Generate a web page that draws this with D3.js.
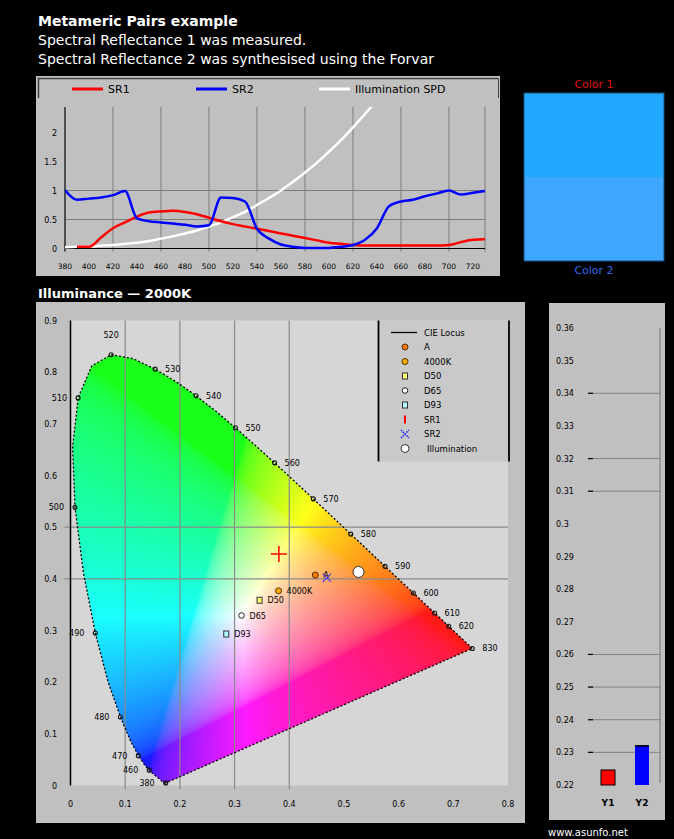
<!DOCTYPE html>
<html><head><meta charset="utf-8">
<script src="https://cdn.jsdelivr.net/npm/d3@7"></script>
<style>
html,body{margin:0;padding:0;background:#000;}
svg{display:block;font-family:"DejaVu Sans",sans-serif;}
</style></head><body>
<svg id="chart" width="674" height="839"></svg>
<script>
// ---------- data ----------
const titleLines = ["Metameric Pairs example", "Spectral Reflectance 1 was measured.", "Spectral Reflectance 2 was synthesised using the Forvar"];

// spectra, 10 nm steps
const wavelengths = d3.range(380, 731, 10);
const sr1 = [null,0.03,0.03,0.19,0.35,0.45,0.55,0.62,0.64,0.65,0.63,0.59,0.53,0.47,0.42,0.38,0.34,0.30,0.26,0.22,0.18,0.14,0.10,0.08,0.06,0.05,0.05,0.05,0.05,0.05,0.05,0.05,0.06,0.11,0.15,0.16];
const sr2 = [1.01,0.84,0.86,0.88,0.92,0.99,0.52,0.47,0.45,0.43,0.41,0.38,0.40,0.88,0.87,0.81,0.34,0.17,0.07,0.03,0.01,0.01,0.01,0.03,0.06,0.15,0.35,0.73,0.81,0.84,0.90,0.95,1.00,0.93,0.96,0.99];
const illumWl = d3.range(380, 641, 10);
const illum = [0.02,0.03,0.03,0.05,0.06,0.08,0.10,0.13,0.17,0.21,0.26,0.31,0.38,0.45,0.54,0.63,0.75,0.87,1.00,1.15,1.31,1.48,1.67,1.87,2.09,2.32,2.56];
const specSeries = ["SR1", "SR2", "Illumination SPD"];
const specXTicks = d3.range(380, 721, 20);
const specXGrid = [420, 460, 500, 540, 580, 620, 660, 700, 730];
const specYTicks = [0, 0.5, 1, 1.5, 2];
const specYGrid = [0.5, 1];

// colour swatches
const swatchNames = ["Color 1", "Color 2"];
const swatchColors = ["#22a8ff", "#3ea6fc"];

// CIE 1931 spectral locus
const locusWl = [380,385,390,395,400,405,410,415,420,425,430,435,440,445,450,455,460,465,470,475,480,485,490,495,500,505,510,515,520,525,530,535,540,545,550,555,560,565,570,575,580,585,590,595,600,605,610,615,620,625,630,635,640,645,650,660,670,680,700,830];
const locusX = [0.1741,0.1740,0.1738,0.1736,0.1733,0.1730,0.1726,0.1721,0.1714,0.1703,0.1689,0.1669,0.1644,0.1611,0.1566,0.1510,0.1440,0.1355,0.1241,0.1096,0.0913,0.0687,0.0454,0.0235,0.0082,0.0039,0.0139,0.0389,0.0743,0.1142,0.1547,0.1929,0.2296,0.2658,0.3016,0.3373,0.3731,0.4087,0.4441,0.4788,0.5125,0.5448,0.5752,0.6029,0.6270,0.6482,0.6658,0.6801,0.6915,0.7006,0.7079,0.7140,0.7190,0.7230,0.7260,0.7300,0.7320,0.7334,0.7347,0.7347];
const locusY = [0.0050,0.0050,0.0049,0.0049,0.0048,0.0048,0.0048,0.0048,0.0051,0.0058,0.0069,0.0086,0.0109,0.0138,0.0177,0.0227,0.0297,0.0399,0.0578,0.0868,0.1327,0.2007,0.2950,0.4127,0.5384,0.6548,0.7502,0.8120,0.8338,0.8262,0.8059,0.7816,0.7543,0.7243,0.6923,0.6589,0.6245,0.5896,0.5547,0.5202,0.4866,0.4544,0.4242,0.3965,0.3725,0.3514,0.3340,0.3197,0.3083,0.2993,0.2920,0.2859,0.2809,0.2770,0.2740,0.2700,0.2680,0.2666,0.2653,0.2653];
const locusLabels = [380,460,470,480,490,500,510,520,530,540,550,560,570,580,590,600,610,620,830];

// white points and samples
const refNames = ["A", "4000K", "D50", "D65", "D93"];
const refX = [0.4476, 0.3805, 0.3457, 0.3127, 0.2848];
const refY = [0.4074, 0.3768, 0.3585, 0.3290, 0.2932];
const sampleNames = ["SR1", "SR2", "Illumination"];
const sampleX = [0.381, 0.469, 0.5267];
const sampleY = [0.448, 0.402, 0.4133];
const chromaLegend = ["CIE Locus", "A", "4000K", "D50", "D65", "D93", "SR1", "SR2", "Illumination"];
const chromaXTicks = [0, 0.1, 0.2, 0.3, 0.4, 0.5, 0.6, 0.7, 0.8];
const chromaYTicks = [0, 0.1, 0.2, 0.3, 0.4, 0.5, 0.6, 0.7, 0.8, 0.9];
const chromaXGrid = [0.1, 0.2, 0.3, 0.4];
const chromaYGrid = [0.4, 0.5];

// luminance bars
const barNames = ["Y1", "Y2"];
const barValues = [0.2246, 0.2320];
const barTicks = d3.range(22, 37).map(v => v / 100);
const barGrid = [0.23, 0.24, 0.25, 0.26, 0.31, 0.32, 0.34];

// ---------- drawing ----------
const svg = d3.select("#chart");
svg.append("rect").attr("width", 674).attr("height", 839).attr("fill", "#000");

svg.selectAll("text.title").data(titleLines).join("text")
  .attr("class", "title").attr("x", 38).attr("y", (d, i) => 26 + i * 19)
  .attr("fill", "#fff").attr("font-size", 14)
  .attr("font-weight", (d, i) => i ? 400 : 700).text(d => d);

// ===== spectral panel =====
const sx = d3.scaleLinear().domain([380, 730]).range([65, 485]);
const sy = d3.scaleLinear().domain([0, 2.44]).range([248.5, 107]);

svg.append("rect").attr("x", 36).attr("y", 76).attr("width", 464).attr("height", 200).attr("fill", "#c0c0c0");
svg.append("path").attr("d", "M38.5,98V78.5H498.5").attr("fill", "none").attr("stroke", "#404040").attr("stroke-width", 1.5);
svg.append("path").attr("d", "M498.5,78.5V98").attr("fill", "none").attr("stroke", "#404040").attr("stroke-width", 1);

const spec = svg.append("g");
spec.selectAll("line.vg").data(specXGrid).join("line")
  .attr("x1", d => sx(d)).attr("x2", d => sx(d)).attr("y1", sy.range()[1]).attr("y2", sy(0) + 3)
  .attr("stroke", "#7c7c7c").attr("stroke-width", 1);
spec.selectAll("line.hg").data(specYGrid).join("line")
  .attr("x1", sx(380)).attr("x2", sx(730)).attr("y1", d => sy(d)).attr("y2", d => sy(d))
  .attr("stroke", "#7c7c7c").attr("stroke-width", 1);
spec.append("line").attr("x1", sx(380)).attr("x2", sx(380)).attr("y1", sy.range()[1]).attr("y2", sy(0) + 3).attr("stroke", "#000").attr("stroke-width", 1.2);
spec.append("line").attr("x1", sx(380)).attr("x2", sx(730)).attr("y1", sy(0)).attr("y2", sy(0)).attr("stroke", "#000").attr("stroke-width", 1.2);

spec.selectAll("text.yt").data(specYTicks).join("text")
  .attr("x", 57).attr("y", d => sy(d) + 3).attr("text-anchor", "end")
  .attr("font-size", 8).attr("fill", "#000").text(d => d);
spec.selectAll("text.xt").data(specXTicks).join("text")
  .attr("x", d => sx(d)).attr("y", 269).attr("text-anchor", "middle")
  .attr("font-size", 7.5).attr("fill", "#000").text(d => d);

svg.append("clipPath").attr("id", "specClip").append("rect")
  .attr("x", sx(380)).attr("y", sy.range()[1]).attr("width", sx(730) - sx(380)).attr("height", sy(0) - sy.range()[1] + 2);

const specColors = ["#ff0000", "#0000ff", "#ffffff"];
const specData = [
  wavelengths.map((w, i) => [w, sr1[i]]),
  wavelengths.map((w, i) => [w, sr2[i]]),
  illumWl.map((w, i) => [w, illum[i]])
];
const specLine = d3.line().defined(d => d[1] != null).x(d => sx(d[0])).y(d => sy(d[1])).curve(d3.curveMonotoneX);
spec.append("g").attr("clip-path", "url(#specClip)")
  .selectAll("path").data([specData[2], specData[0], specData[1]]).join("path")
  .attr("d", specLine).attr("fill", "none")
  .attr("stroke", (d, i) => [specColors[2], specColors[0], specColors[1]][i]).attr("stroke-width", 2.5);

const specLegX = [72, 196, 319];
const sleg = svg.append("g").selectAll("g").data(specSeries).join("g")
  .attr("transform", (d, i) => `translate(${specLegX[i]},89)`);
sleg.append("line").attr("x1", 0).attr("x2", 31).attr("stroke", (d, i) => specColors[i]).attr("stroke-width", 3);
sleg.append("text").attr("x", 36).attr("y", 4).attr("font-size", 11).attr("fill", "#000").text(d => d);

// ===== colour swatches =====
const swY = d3.scaleBand().domain(swatchNames).range([93, 261]);
svg.selectAll("rect.sw").data(swatchNames).join("rect")
  .attr("x", 524).attr("y", d => swY(d)).attr("width", 140).attr("height", swY.bandwidth())
  .attr("fill", (d, i) => swatchColors[i]);
svg.append("rect").attr("x", 524).attr("y", 93).attr("width", 140).attr("height", 168)
  .attr("fill", "none").attr("stroke", "#1b4f7c").attr("stroke-width", 1);
svg.append("text").attr("x", 594).attr("y", 88).attr("text-anchor", "middle").attr("font-size", 11).attr("fill", "#e01010").text(swatchNames[0]);
svg.append("text").attr("x", 594).attr("y", 274).attr("text-anchor", "middle").attr("font-size", 11).attr("fill", "#3366ee").text(swatchNames[1]);

// ===== chromaticity panel =====
svg.append("text").attr("x", 38).attr("y", 298).attr("fill", "#fff").attr("font-size", 13).attr("font-weight", 700).text("Illuminance \u2014 2000K");

const cx = d3.scaleLinear().domain([0, 0.8]).range([70.5, 508]);
const cy = d3.scaleLinear().domain([0, 0.9]).range([785.5, 320.5]);

svg.append("rect").attr("x", 36).attr("y", 302).attr("width", 489).attr("height", 521).attr("fill", "#c0c0c0");
svg.append("rect").attr("x", cx(0)).attr("y", cy(0.9)).attr("width", cx(0.8) - cx(0)).attr("height", cy(0) - cy(0.9)).attr("fill", "#d6d6d6");

// colour fill of the gamut, computed per pixel from xy
function xyToRgb(x, y) {
  if (y <= 0.0001) return [0, 0, 0];
  const X = x / y, Y = 1, Z = (1 - x - y) / y;
  let r = 3.2406 * X - 1.5372 * Y - 0.4986 * Z;
  let g = -0.9689 * X + 1.8758 * Y + 0.0415 * Z;
  let b = 0.0557 * X - 0.2040 * Y + 1.0570 * Z;
  r = Math.max(r, 0); g = Math.max(g, 0); b = Math.max(b, 0);
  const m = Math.max(r, g, b) || 1;
  const gam = v => v <= 0.0031308 ? 12.92 * v : 1.055 * Math.pow(v, 1 / 2.4) - 0.055;
  // slight white lift gives the softer pastel look of the fill
  return [gam(r / m), gam(g / m), gam(b / m)].map(v => Math.round((Math.min(1, v) * 0.9 + 0.1) * 255));
}
const cw = Math.round(cx(0.8) - cx(0)), ch = Math.round(cy(0) - cy(0.9));
const canvas = document.createElement("canvas");
canvas.width = cw; canvas.height = ch;
const ctx = canvas.getContext("2d");
const img = ctx.createImageData(cw, ch);
for (let j = 0; j < ch; j++) {
  const yv = cy.invert(cy(0.9) + j + 0.5);
  for (let i = 0; i < cw; i++) {
    const xv = cx.invert(cx(0) + i + 0.5);
    const c = xyToRgb(xv, yv);
    const k = (j * cw + i) * 4;
    img.data[k] = c[0]; img.data[k + 1] = c[1]; img.data[k + 2] = c[2]; img.data[k + 3] = 255;
  }
}
ctx.putImageData(img, 0, 0);

const locusPts = locusWl.map((w, i) => [locusX[i], locusY[i], w]);
const locusLine = d3.line().x(d => cx(d[0])).y(d => cy(d[1]));
svg.append("clipPath").attr("id", "locusClip").append("path").attr("d", locusLine(locusPts) + "Z");
svg.append("image").attr("href", canvas.toDataURL()).attr("x", cx(0)).attr("y", cy(0.9))
  .attr("width", cw).attr("height", ch).attr("clip-path", "url(#locusClip)");

const chroma = svg.append("g");
chroma.selectAll("line.vg").data(chromaXGrid).join("line")
  .attr("x1", d => cx(d)).attr("x2", d => cx(d)).attr("y1", cy(0.9)).attr("y2", cy(0) + 4)
  .attr("stroke", "#8a8a8a").attr("stroke-width", 1.2);
chroma.selectAll("line.hg").data(chromaYGrid).join("line")
  .attr("x1", cx(0) - 6).attr("x2", cx(0.8)).attr("y1", d => cy(d)).attr("y2", d => cy(d))
  .attr("stroke", "#8a8a8a").attr("stroke-width", 1.2);
chroma.append("line").attr("x1", cx(0)).attr("x2", cx(0)).attr("y1", cy(0.9)).attr("y2", cy(0))
  .attr("stroke", "#000").attr("stroke-width", 1.5);

chroma.selectAll("text.xt").data(chromaXTicks).join("text")
  .attr("x", d => cx(d)).attr("y", 807).attr("text-anchor", "middle").attr("font-size", 8).attr("fill", "#000")
  .text(d => d === 0 ? "0" : d.toFixed(1));
chroma.selectAll("text.yt").data(chromaYTicks).join("text")
  .attr("x", 57).attr("y", d => cy(d) + 3).attr("text-anchor", "end").attr("font-size", 8).attr("fill", "#000")
  .text(d => d === 0 ? "0" : d.toFixed(1));

// spectral locus outline
chroma.append("path").attr("d", locusLine(locusPts) + "Z").attr("fill", "none")
  .attr("stroke", "#000").attr("stroke-width", 1.3).attr("stroke-dasharray", "2,2");

// wavelength markers and labels
const lab = chroma.selectAll("g.wl").data(locusLabels).join("g").attr("class", "wl")
  .attr("transform", w => { const i = locusWl.indexOf(w); return `translate(${cx(locusX[i])},${cy(locusY[i])})`; });
lab.append("circle").attr("r", 2).attr("fill", "none").attr("stroke", "#111").attr("stroke-width", 1.1);
lab.append("text")
  .attr("x", w => w === 520 ? 0 : (w <= 510 ? -11 : 10))
  .attr("y", w => w === 520 ? -17 : 3)
  .attr("text-anchor", w => w === 520 ? "middle" : (w <= 510 ? "end" : "start"))
  .attr("font-size", 8).attr("fill", "#000").text(w => w);

// marker drawing
function drawMarker(g, name, big) {
  switch (name) {
    case "A": g.append("circle").attr("r", 3).attr("fill", "#ff7a00").attr("stroke", "#5a2a00").attr("stroke-width", 1); break;
    case "4000K": g.append("circle").attr("r", 3).attr("fill", "#ffaa00").attr("stroke", "#4a3300").attr("stroke-width", 1); break;
    case "D50": g.append("rect").attr("x", -2.5).attr("y", -3).attr("width", 5).attr("height", 6).attr("fill", "#ffff70").attr("stroke", "#333").attr("stroke-width", 1); break;
    case "D65": g.append("circle").attr("r", 2.8).attr("fill", "#fff").attr("stroke", "#222").attr("stroke-width", 1); break;
    case "D93": g.append("rect").attr("x", -2.5).attr("y", -3).attr("width", 5).attr("height", 6).attr("fill", "#b0ffff").attr("stroke", "#333").attr("stroke-width", 1); break;
    case "SR1":
      if (big) { g.append("path").attr("d", "M-8,0H8M0,-8V8").attr("stroke", "#ff0000").attr("stroke-width", 1.5); }
      else { g.append("line").attr("y1", -4).attr("y2", 4).attr("stroke", "#ff0000").attr("stroke-width", 2); }
      break;
    case "SR2": g.append("path").attr("d", "M-4,-4L4,4M-4,4L4,-4").attr("stroke", "#2a2aff").attr("stroke-width", 1.6).attr("stroke-dasharray", "1.6,1"); break;
    case "Illumination": g.append("circle").attr("r", big ? 5.5 : 4).attr("fill", "#fff").attr("stroke", "#333").attr("stroke-width", 1); break;
  }
}

// reference white points
refNames.forEach((n, i) => {
  const g = chroma.append("g").attr("transform", `translate(${cx(refX[i])},${cy(refY[i])})`);
  drawMarker(g, n, true);
  g.append("text").attr("x", 8).attr("y", 3).attr("font-size", 8).attr("fill", "#000").text(n);
});
sampleNames.forEach((n, i) => {
  const g = chroma.append("g").attr("transform", `translate(${cx(sampleX[i])},${cy(sampleY[i])})`);
  drawMarker(g, n, true);
});

// legend
const legX = 378, legY = cy(0.9);
svg.append("rect").attr("x", legX).attr("y", legY).attr("width", 131).attr("height", 141).attr("fill", "#c9c9c9");
svg.append("line").attr("x1", legX + 0.5).attr("x2", legX + 0.5).attr("y1", legY).attr("y2", legY + 141).attr("stroke", "#000").attr("stroke-width", 1.8);
svg.append("line").attr("x1", legX + 131).attr("x2", legX + 131).attr("y1", legY).attr("y2", legY + 141).attr("stroke", "#000").attr("stroke-width", 1.8);
const leg = svg.append("g").selectAll("g").data(chromaLegend).join("g")
  .attr("transform", (d, i) => `translate(${legX + 27},${legY + 12 + i * 14.5})`);
leg.each(function (d, i) {
  const g = d3.select(this);
  if (i === 0) g.append("line").attr("x1", -14).attr("x2", 12).attr("stroke", "#000").attr("stroke-width", 1.3);
  else drawMarker(g, d, false);
});
leg.append("text").attr("x", (d, i) => i === 8 ? 22 : 19).attr("y", 3).attr("font-size", 8.5).attr("fill", "#000").text(d => d);

// ===== luminance bars =====
const by = d3.scaleLinear().domain([0.22, 0.36]).range([785, 328]);
const bx = d3.scaleBand().domain(barNames).range([591, 659]).paddingInner(0.588).paddingOuter(0.294);

svg.append("rect").attr("x", 549).attr("y", 303).attr("width", 116).attr("height", 517).attr("fill", "#c0c0c0");
const bars = svg.append("g");
bars.selectAll("line.g").data(barGrid).join("line")
  .attr("x1", 589).attr("x2", 660).attr("y1", d => by(d)).attr("y2", d => by(d))
  .attr("stroke", "#808080").attr("stroke-width", 1);
bars.selectAll("line.t").data(barGrid).join("line")
  .attr("x1", 588).attr("x2", 593).attr("y1", d => by(d)).attr("y2", d => by(d))
  .attr("stroke", "#000").attr("stroke-width", 1.2);
bars.append("line").attr("x1", 660).attr("x2", 660).attr("y1", by(0.36)).attr("y2", by(0.22) - 2)
  .attr("stroke", "#808080").attr("stroke-width", 1.2);
bars.selectAll("text.t").data(barTicks).join("text")
  .attr("x", 556).attr("y", d => by(d) + 3).attr("font-size", 8).attr("fill", "#000")
  .text(d => String(+d.toFixed(2)));
const barColors = ["#ff0000", "#0000ff"];
bars.selectAll("rect.b").data(barValues).join("rect")
  .attr("x", (d, i) => bx(barNames[i])).attr("width", bx.bandwidth())
  .attr("y", d => by(d)).attr("height", d => by(0.22) - by(d))
  .attr("fill", (d, i) => barColors[i])
  .attr("stroke", (d, i) => i === 0 ? "#000" : "none").attr("stroke-width", 1);
bars.append("line").attr("x1", bx("Y2")).attr("x2", bx("Y2") + bx.bandwidth())
  .attr("y1", by(barValues[1])).attr("y2", by(barValues[1])).attr("stroke", "#000").attr("stroke-width", 1.5);
bars.selectAll("text.n").data(barNames).join("text")
  .attr("x", d => bx(d) + bx.bandwidth() / 2).attr("y", 806).attr("text-anchor", "middle")
  .attr("font-size", 9).attr("font-weight", 700).attr("fill", "#000").text(d => d);

svg.append("text").attr("x", 548).attr("y", 836).attr("font-size", 10).attr("fill", "#fff").text("www.asunfo.net");
</script></body></html>
